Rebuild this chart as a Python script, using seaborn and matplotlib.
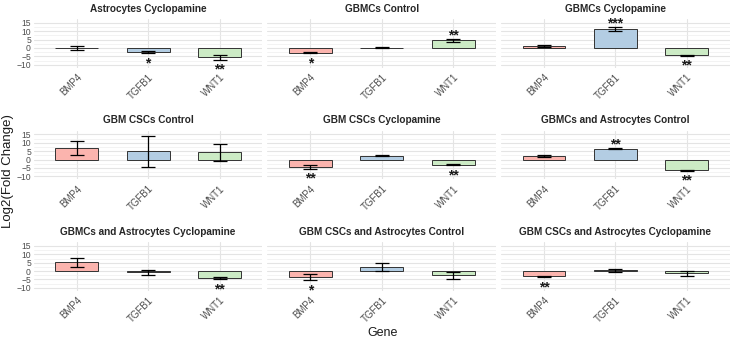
import numpy as np
import pandas as pd
import matplotlib
matplotlib.use('Agg')
import matplotlib.pyplot as plt
import seaborn as sns

# facets, in the order they are drawn
conditions = ['Astrocytes Cyclopamine', 'GBMCs Control', 'GBMCs Cyclopamine',
              'GBM CSCs Control', 'GBM CSCs Cyclopamine', 'GBMCs and Astrocytes Control',
              'GBMCs and Astrocytes Cyclopamine', 'GBM CSCs and Astrocytes Control',
              'GBM CSCs and Astrocytes Cyclopamine']
genes = ['BMP4', 'TGFB1', 'WNT1']

# log2 fold change (mean) per condition
bmp4_mean = [-0.1, -3.0, 1.1, 7.1, -4.2, 2.0, 5.2, -3.7, -3.2]
tgfb1_mean = [-2.4, 0.1, 11.3, 4.8, 2.2, 6.3, -0.8, 2.5, 0.5]
wnt1_mean = [-5.5, 4.6, -4.4, 4.4, -3.0, -6.5, -4.1, -2.5, -1.4]

# error bar half widths
bmp4_se = [1.4, 0.3, 0.4, 4.1, 1.2, 0.7, 2.6, 1.9, 0.3]
tgfb1_se = [0.7, 0.3, 1.2, 9.0, 0.3, 0.3, 1.5, 2.5, 0.8]
wnt1_se = [1.5, 0.8, 0.3, 5.1, 0.4, 0.2, 0.7, 2.0, 1.5]

# significance labels
bmp4_sig = ['', '*', '', '', '**', '', '', '*', '**']
tgfb1_sig = ['*', '', '***', '', '', '**', '', '', '']
wnt1_sig = ['**', '**', '**', '', '**', '**', '**', '', '']

rows = []
for g, m, s, p in [('BMP4', bmp4_mean, bmp4_se, bmp4_sig),
                   ('TGFB1', tgfb1_mean, tgfb1_se, tgfb1_sig),
                   ('WNT1', wnt1_mean, wnt1_se, wnt1_sig)]:
    for c, mv, sv, pv in zip(conditions, m, s, p):
        rows.append({'condition': c, 'gene': g, 'mean': mv, 'se': sv, 'sig': pv})
df = pd.DataFrame(rows)

sns.set_theme(style='white')
plt.rcParams['font.family'] = ['Liberation Sans', 'DejaVu Sans']

pal = dict(zip(genes, sns.color_palette('Pastel1', 3)))

fig, axes = plt.subplots(3, 3, figsize=(7.5, 3.42), dpi=100, sharey=True)
fig.subplots_adjust(left=0.045, right=0.973, top=0.944, bottom=0.149,
                    wspace=0.022, hspace=1.29)

for ax, cond in zip(axes.flat, conditions):
    sub = df[df['condition'] == cond].set_index('gene').loc[genes].reset_index()
    ax.set_axisbelow(True)
    sns.barplot(data=sub, x='gene', y='mean', hue='gene', palette=pal, order=genes,
                width=0.6, saturation=1, edgecolor='#333333', linewidth=0.7,
                legend=False, ax=ax)
    ax.errorbar(np.arange(len(genes)), sub['mean'], yerr=sub['se'], fmt='none',
                ecolor='black', elinewidth=0.9, capsize=5, capthick=0.9)
    for i, r in sub.iterrows():
        if r['sig']:
            if r['mean'] >= 0:
                y = r['mean'] + r['se'] + 2.3
            else:
                y = r['mean'] - r['se'] - 6.0
            ax.text(i, y, r['sig'], ha='center', va='center', fontsize=10,
                    fontweight='bold', color='#1a1a1a')
    ax.set_title(cond, fontsize=7.2, fontweight='bold', pad=5.5)
    ax.set_xlim(-0.6, 2.6)
    ax.set_ylim(-11.9, 17.2)
    ax.set_yticks(np.arange(-10, 16, 5))
    ax.set_yticks(np.arange(-7.5, 17, 5), minor=True)
    ax.grid(which='major', color='#e4e4e4', linewidth=0.8)
    ax.grid(which='minor', axis='y', color='#eeeeee', linewidth=0.5)
    ax.set_xlabel('')
    ax.set_ylabel('')
    for sp in ax.spines.values():
        sp.set_visible(False)
    ax.tick_params(length=0, colors='#4d4d4d', pad=2)
    ax.tick_params(axis='y', labelsize=6.2)
    ax.tick_params(axis='x', labelsize=7, pad=3)
    for lab in ax.get_xticklabels():
        lab.set_rotation(45)
        lab.set_ha('right')
        lab.set_rotation_mode('anchor')

fig.text(0.51, 0.027, 'Gene', ha='center', va='center', fontsize=9, color='#1a1a1a')
fig.text(0.011, 0.5, 'Log2(Fold Change)', ha='center', va='center', rotation=90,
         fontsize=9.5, color='#1a1a1a')

fig.savefig('out.png', dpi=100)
